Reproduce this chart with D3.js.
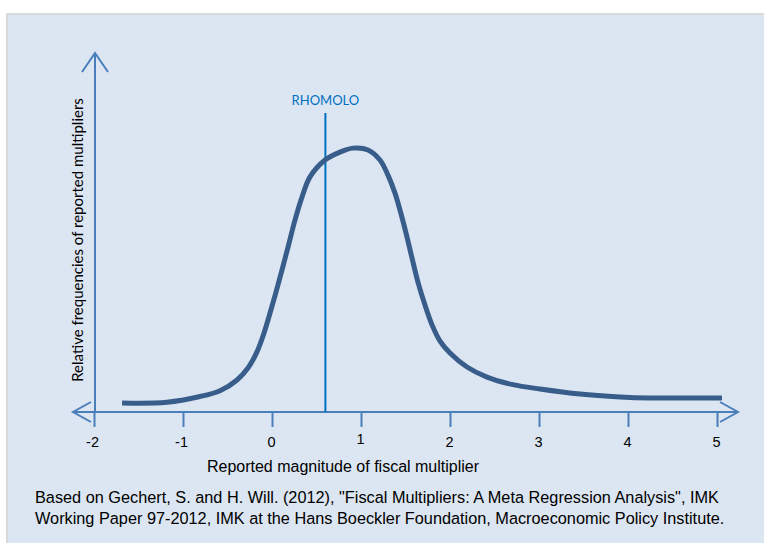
<!DOCTYPE html>
<html>
<head>
<meta charset="utf-8">
<script src="https://cdn.jsdelivr.net/npm/d3@7"></script>
<style>
  html, body { margin: 0; padding: 0; background: #ffffff; }
  svg { display: block; }
</style>
</head>
<body>
<svg id="chart" width="764" height="543"></svg>
<script>
// ---- data ----
const xTicks = [-2, -1, 0, 1, 2, 3, 4, 5];
const curveX = [-1.685, -1.18, -0.809, -0.584, -0.393, -0.270, -0.169, -0.090, -0.022, 0.045, 0.112, 0.180, 0.258, 0.337, 0.427, 0.596, 0.764, 0.910, 1.079, 1.213, 1.303, 1.382, 1.438, 1.506, 1.573, 1.640, 1.719, 1.798, 1.888, 2.000, 2.191, 2.416, 2.708, 3.011, 3.461, 3.910, 4.247, 4.584, 5.056];
const curveY = [0.025, 0.027, 0.043, 0.059, 0.089, 0.122, 0.167, 0.219, 0.275, 0.333, 0.394, 0.458, 0.533, 0.597, 0.653, 0.700, 0.722, 0.733, 0.728, 0.700, 0.658, 0.608, 0.561, 0.497, 0.428, 0.361, 0.297, 0.242, 0.197, 0.164, 0.125, 0.097, 0.076, 0.064, 0.050, 0.042, 0.039, 0.039, 0.039];
const markerValue = 0.6;
const markerLabel = "RHOMOLO";
const xTitle = "Reported magnitude of fiscal multiplier";
const yTitle = "Relative frequencies of reported multipliers";
const noteLines = [
  "Based on Gechert, S. and H. Will. (2012), \"Fiscal Multipliers: A Meta Regression Analysis\", IMK",
  "Working Paper 97-2012, IMK at the Hans Boeckler Foundation, Macroeconomic Policy Institute."
];

// ---- drawing ----
const svg = d3.select("#chart");
const axisColor = "#4a7ebb";

svg.append("rect")
  .attr("x", 7).attr("y", 14).attr("width", 760).attr("height", 535)
  .attr("fill", "#dce6f2").attr("stroke", "#d9d9d9").attr("stroke-width", 2);

const x = d3.scaleLinear().domain([-2, 5]).range([94, 717]);
const y = d3.scaleLinear().domain([0, 1]).range([412, 52]);

// x axis ticks + labels
const xAxis = d3.axisBottom(x).tickValues(xTicks).tickSize(15).tickSizeOuter(0).tickPadding(10)
  .tickFormat(d => String(d));
const gx = svg.append("g").attr("transform", `translate(0,${y(0)})`).call(xAxis);
gx.select(".domain").remove();
gx.selectAll(".tick line").attr("stroke", axisColor).attr("stroke-width", 2);
gx.selectAll(".tick text")
  .attr("fill", "#000").attr("font-size", 14.5).style("font-family", "Liberation Sans, Arial, sans-serif").style("font-size", "14.5px")
  .attr("dy", d => d === 1 ? "0.5em" : "0.71em")
  .attr("dx", d => d < 0 ? "-2px" : "-1px");

// x axis line with arrowheads
const xl = x(-2) - 21, xr = x(5) + 21, y0 = y(0);
svg.append("line").attr("x1", xl).attr("x2", xr).attr("y1", y0).attr("y2", y0)
  .attr("stroke", axisColor).attr("stroke-width", 2);
svg.append("path").attr("d", `M${xl + 18},${y0 - 10} L${xl},${y0} L${xl + 18},${y0 + 10}`)
  .attr("fill", "none").attr("stroke", axisColor).attr("stroke-width", 2);
svg.append("path").attr("d", `M${xr - 18},${y0 - 10} L${xr},${y0} L${xr - 18},${y0 + 10}`)
  .attr("fill", "none").attr("stroke", axisColor).attr("stroke-width", 2);

// y axis line with arrowhead
const yx = x(-2) + 1, yTop = y(1) + 1;
svg.append("line").attr("x1", yx).attr("x2", yx).attr("y1", y0).attr("y2", yTop)
  .attr("stroke", axisColor).attr("stroke-width", 2);
svg.append("path").attr("d", `M${yx - 13},${yTop + 19} L${yx},${yTop} L${yx + 13},${yTop + 19}`)
  .attr("fill", "none").attr("stroke", axisColor).attr("stroke-width", 2);

// marker line
svg.append("line").attr("x1", x(markerValue)).attr("x2", x(markerValue))
  .attr("y1", y0).attr("y2", 113)
  .attr("stroke", "#0070c0").attr("stroke-width", 2);
svg.append("text").attr("x", x(markerValue)).attr("y", 105).attr("text-anchor", "middle")
  .attr("fill", "#0070c0").style("font-family", "Lato, 'Open Sans', sans-serif").style("font-size", "13px")
  .text(markerLabel);

// curve
const pts = curveX.map((v, i) => [v, curveY[i]]);
svg.append("path").datum(pts)
  .attr("d", d3.line().x(d => x(d[0])).y(d => y(d[1])).curve(d3.curveCatmullRom.alpha(0.5)))
  .attr("fill", "none").attr("stroke", "#385d8a").attr("stroke-width", 5)
  .attr("stroke-linejoin", "round");

// titles
svg.append("text").attr("x", 343).attr("y", 472).attr("text-anchor", "middle")
  .style("font-family", "Liberation Sans, Arial, sans-serif").style("font-size", "16px").attr("fill", "#000")
  .text(xTitle);
svg.append("text").attr("transform", "translate(83,240) rotate(-90)").attr("text-anchor", "middle")
  .style("font-family", "Lato, 'Open Sans', sans-serif").style("font-size", "15px").attr("fill", "#000")
  .text(yTitle);

// note
noteLines.forEach((t, i) => {
  svg.append("text").attr("x", 35).attr("y", 503 + i * 21)
    .style("font-family", "Liberation Sans, Arial, sans-serif").style("font-size", "16.3px").attr("fill", "#000")
    .text(t);
});
</script>
</body>
</html>
